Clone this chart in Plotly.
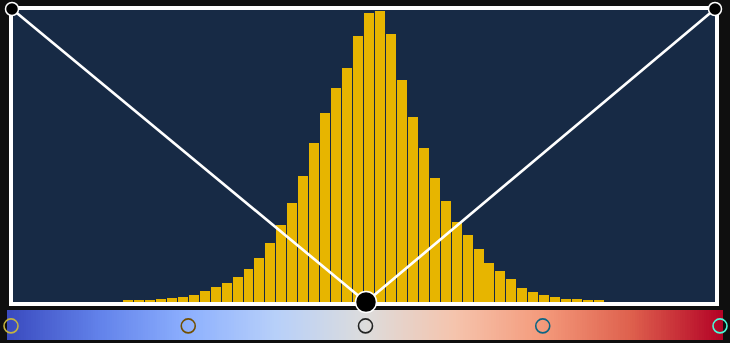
import numpy as np
import plotly.graph_objects as go

# ---------------- data ----------------
bin_index = list(range(44))
counts = [4, 4, 4, 6, 8, 10, 14, 22, 30, 38, 50, 66, 88, 118, 154, 198, 252, 318,
          378, 428, 468, 532, 578, 582, 536, 444, 370, 308, 248, 202, 160, 134,
          106, 78, 62, 46, 28, 20, 14, 10, 6, 6, 4, 4]

# coolwarm colour scale stops
cmap_pos = [0.0, 0.125, 0.25, 0.375, 0.5, 0.625, 0.75, 0.875, 1.0]
cmap_rgb = [(59, 76, 192), (98, 130, 234), (141, 176, 254), (184, 208, 249),
            (221, 220, 220), (245, 196, 173), (244, 154, 123), (222, 96, 77),
            (180, 4, 38)]
marker_stops = [0.0, 0.25, 0.5, 0.75, 1.0]

# ---------------- styling ----------------
W, H = 730, 343
BG = "#0f0f0f"
NAVY = "#172a45"
GOLD = "#e7b500"


def px(x):
    return x / W


def py(y):
    return (H - y) / H


def rgb(c):
    return "rgb(%d,%d,%d)" % c


def interp(t):
    for i in range(len(cmap_pos) - 1):
        a, b = cmap_pos[i], cmap_pos[i + 1]
        if a <= t <= b:
            f = (t - a) / (b - a)
            ca, cb = cmap_rgb[i], cmap_rgb[i + 1]
            return tuple(int(round(ca[k] + f * (cb[k] - ca[k]))) for k in range(3))
    return cmap_rgb[-1]


fig = go.Figure()

# histogram bars
fig.add_trace(go.Bar(
    x=bin_index, y=counts, width=0.91,
    marker=dict(color=GOLD, line=dict(width=0)),
    xaxis="x", yaxis="y", hoverinfo="skip", showlegend=False,
))

# colour strip
N = 300
r0, r1 = (7 - 11) / 709, (723 - 11) / 709
dx = (r1 - r0) / N
strip_z = [list(np.linspace(r0 + dx / 2, r1 - dx / 2, N))]
fig.add_trace(go.Heatmap(
    z=strip_z, x0=r0 + dx / 2, dx=dx, y0=0, dy=1,
    colorscale=[[p, rgb(c)] for p, c in zip(cmap_pos, cmap_rgb)],
    zmin=0, zmax=1, showscale=False, xaxis="x2", yaxis="y2", hoverinfo="skip",
))

# rings on the strip (inverse colour outlines)
ring_cols = [rgb(tuple(255 - v for v in interp(t))) for t in marker_stops]
fig.add_trace(go.Scatter(
    x=marker_stops, y=[-0.03] * len(marker_stops), mode="markers",
    marker=dict(size=14, color="rgba(0,0,0,0)", line=dict(color=ring_cols, width=1.6)),
    xaxis="x2", yaxis="y2", cliponaxis=False, hoverinfo="skip", showlegend=False,
))

axis_off = dict(showgrid=False, zeroline=False, showticklabels=False,
                showline=False, ticks="", fixedrange=True)

shapes = []
# white frame
shapes.append(dict(type="rect", xref="paper", yref="paper",
                   x0=px(11), x1=px(717), y0=py(304), y1=py(8),
                   line=dict(color="white", width=4), layer="above"))
# V lines
vx, vy = 366, 302
shapes.append(dict(type="path", xref="paper", yref="paper",
                   path="M %f %f L %f %f L %f %f" % (px(12), py(9), px(vx), py(vy), px(715), py(9)),
                   line=dict(color="white", width=2.7), layer="above"))
# dots
for (cx, cy, r) in [(12, 9, 6.5), (715, 9, 6.5), (vx, vy, 10.5)]:
    shapes.append(dict(type="circle", xref="paper", yref="paper",
                       xsizemode="pixel", ysizemode="pixel",
                       xanchor=px(cx), yanchor=py(cy),
                       x0=-r, x1=r, y0=-r, y1=r,
                       fillcolor="black", line=dict(color="white", width=1.5),
                       layer="above"))

fig.update_layout(
    width=W, height=H,
    margin=dict(l=0, r=0, t=0, b=0),
    paper_bgcolor=BG, plot_bgcolor=NAVY,
    showlegend=False, bargap=0,
    xaxis=dict(domain=[px(13), px(715)], range=[-10.5, 53.59], **axis_off),
    yaxis=dict(domain=[py(302), py(10)], range=[0, 584], **axis_off),
    xaxis2=dict(domain=[px(7), px(723)], range=[r0, r1], anchor="y2", **axis_off),
    yaxis2=dict(domain=[py(340), py(310)], range=[-0.5, 0.5], anchor="x2", **axis_off),
    shapes=shapes,
)

fig.write_html("out.html", config={"displayModeBar": False},
               post_script="document.body.style.margin='0';document.body.style.background='#0f0f0f';")
